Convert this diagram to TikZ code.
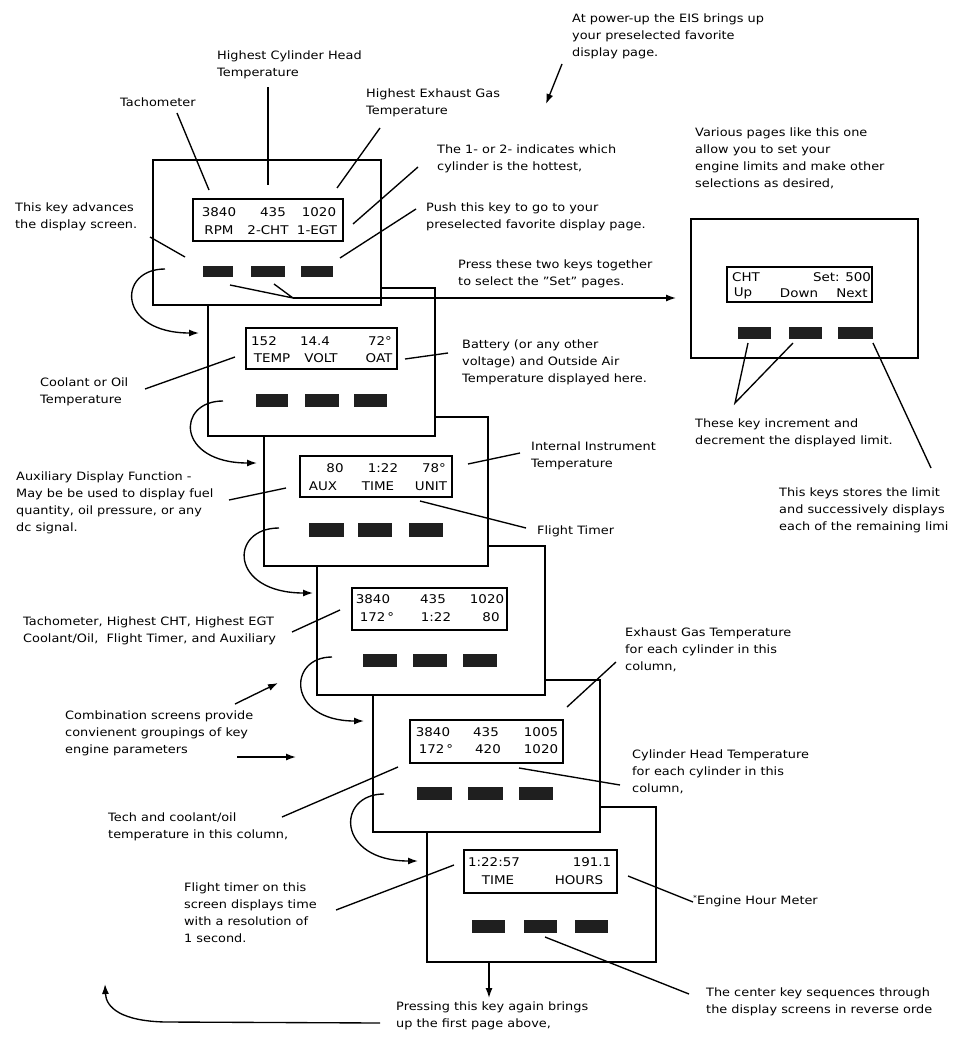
\documentclass[tikz,border=0pt]{standalone}
\usepackage{fontspec}
\setmainfont{DejaVu Sans}[FakeStretch=1.12]
\usetikzlibrary{arrows.meta}
\newcommand\rectnode[6]{\node[#1, minimum width={(#5-#3)*1pt}, minimum height={(#6-#4)*1pt}] (#2) at ({(#3+#5)/2},{(#4+#6)/2}) {};}
\begin{document}
\begin{tikzpicture}[x=1pt,y=-1pt,
  screen/.style={draw, line width=1.6pt, fill=white, inner sep=0pt},
  disp/.style={draw, line width=1.4pt, inner sep=0pt},
  key/.style={fill=black!88, draw=none, inner sep=0pt},
  lbl/.style={font=\fontsize{11.5}{17}\selectfont, align=left, inner sep=0pt, anchor=west},
  dtxt/.style={font=\fontsize{12}{14}\selectfont, inner sep=0pt},
  lead/.style={line width=1.35pt},
  arr/.style={line width=1.35pt, -{Latex[length=10pt,width=7pt]}},
]
\useasboundingbox (0,0) rectangle (956,1057);
\fill[white] (0,0) rectangle (956,1057);

% ---------- screen 6 (back) ----------
\rectnode{screen}{s6}{427}{807}{656}{962}
\rectnode{disp}{d6}{464}{850}{617}{893}
\rectnode{key}{k6a}{472}{920}{505}{933}
\rectnode{key}{k6b}{524}{920}{557}{933}
\rectnode{key}{k6c}{575}{920}{608}{933}
\node[dtxt] (t6a) at (494,862) {1:22:57};
\node[dtxt] (t6b) at (592,862) {191.1};
\node[dtxt] (t6c) at (498,880) {TIME};
\node[dtxt] (t6d) at (579,880) {HOURS};

% ---------- screen 5 ----------
\rectnode{screen}{s5}{373}{680}{600}{832}
\rectnode{disp}{d5}{410}{720}{563}{763}
\rectnode{key}{k5a}{417}{787}{452}{800}
\rectnode{key}{k5b}{468}{787}{503}{800}
\rectnode{key}{k5c}{519}{787}{553}{800}
\node[dtxt] (t5a) at (433,732) {3840};
\node[dtxt] (t5b) at (486,732) {435};
\node[dtxt] (t5c) at (541,732) {1005};
\node[dtxt] (t5d) at (436,749) {172\,°};
\node[dtxt] (t5e) at (488,749) {420};
\node[dtxt] (t5f) at (541,749) {1020};

% ---------- screen 4 ----------
\rectnode{screen}{s4}{317}{546}{545}{695}
\rectnode{disp}{d4}{352}{588}{507}{630}
\rectnode{key}{k4a}{363}{654}{397}{667}
\rectnode{key}{k4b}{413}{654}{447}{667}
\rectnode{key}{k4c}{463}{654}{497}{667}
\node[dtxt] (t4a) at (373,599) {3840};
\node[dtxt] (t4b) at (433,599) {435};
\node[dtxt] (t4c) at (487,599) {1020};
\node[dtxt] (t4d) at (377,617) {172\,°};
\node[dtxt] (t4e) at (436,617) {1:22};
\node[dtxt] (t4f) at (491,617) {80};

% ---------- screen 3 ----------
\rectnode{screen}{s3}{264}{417}{488}{566}
\rectnode{disp}{d3}{300}{456}{452}{497}
\rectnode{key}{k3a}{309}{523}{344}{537}
\rectnode{key}{k3b}{358}{523}{392}{537}
\rectnode{key}{k3c}{409}{523}{443}{537}
\node[dtxt] (t3a) at (335,468) {80};
\node[dtxt] (t3b) at (383,468) {1:22};
\node[dtxt] (t3c) at (434,468) {78°};
\node[dtxt] (t3d) at (323,486) {AUX};
\node[dtxt] (t3e) at (378,486) {TIME};
\node[dtxt] (t3f) at (431,486) {UNIT};

% ---------- screen 2 ----------
\rectnode{screen}{s2}{208}{288}{435}{436}
\rectnode{disp}{d2}{246}{328}{397}{369}
\rectnode{key}{k2a}{256}{394}{288}{407}
\rectnode{key}{k2b}{305}{394}{339}{407}
\rectnode{key}{k2c}{354}{394}{387}{407}
\node[dtxt] (t2a) at (264,341) {152};
\node[dtxt] (t2b) at (315,341) {14.4};
\node[dtxt] (t2c) at (380,341) {72°};
\node[dtxt] (t2d) at (272,358) {TEMP};
\node[dtxt] (t2e) at (321,358) {VOLT};
\node[dtxt] (t2f) at (379,358) {OAT};

% ---------- screen 1 (front) ----------
\rectnode{screen}{s1}{153}{160}{381}{305}
\rectnode{disp}{d1}{193}{199}{343}{241}
\rectnode{key}{k1a}{203}{266}{233}{277}
\rectnode{key}{k1b}{251}{266}{285}{277}
\rectnode{key}{k1c}{301}{266}{333}{277}
\node[dtxt] (t1a) at (219,212) {3840};
\node[dtxt] (t1b) at (273,212) {435};
\node[dtxt] (t1c) at (319,212) {1020};
\node[dtxt] (t1d) at (219,230) {RPM};
\node[dtxt] (t1e) at (268,230) {2-CHT};
\node[dtxt] (t1f) at (317,230) {1-EGT};

% ---------- set screen ----------
\rectnode{screen}{ss}{691}{219}{918}{358}
\rectnode{disp}{ds}{727}{267}{872}{302}
\rectnode{key}{ksa}{738}{327}{771}{339}
\rectnode{key}{ksb}{789}{327}{822}{339}
\rectnode{key}{ksc}{838}{327}{873}{339}
\node[dtxt] (tsa) at (746,277) {CHT};
\node[dtxt] (tsb) at (842,277) {Set: 500};
\node[dtxt] (tsc) at (743,293) {Up};
\node[dtxt] (tsd) at (799,293) {Down};
\node[dtxt] (tse) at (852,293) {Next};

% ---------- labels ----------
\node[lbl] (l1) at (120,102) {Tachometer};
\node[lbl] (l2) at (217,65) {Highest Cylinder Head\\Temperature};
\node[lbl] (l3) at (366,103) {Highest Exhaust Gas\\Temperature};
\node[lbl] (l4) at (572,36) {At power-up the EIS brings up\\your preselected favorite\\display page.};
\node[lbl] (l5) at (437,158.5) {The 1- or 2- indicates which\\cylinder is the hottest,};
\node[lbl] (l6) at (426,216.5) {Push this key to go to your\\preselected favorite display page.};
\node[lbl] (l7) at (15,217) {This key advances\\the display screen.};
\node[lbl] (l8) at (458,273.5) {Press these two keys together\\to select the "Set" pages.};
\node[lbl] (l9) at (695,158.5) {Various pages like this one\\allow you to set your\\engine limits and make other\\selections as desired,};
\node[lbl] (l10) at (40,392) {Coolant or Oil\\Temperature};
\node[lbl] (l11) at (462,362) {Battery (or any other\\voltage) and Outside Air\\Temperature displayed here.};
\node[lbl] (l12) at (695,433) {These key increment and\\decrement the displayed limit.};
\node[lbl] (l13) at (531,456) {Internal Instrument\\Temperature};
\node[lbl] (l14) at (779,510) {This keys stores the limit\\and successively displays\\each of the remaining limi};
\node[lbl] (l15) at (537,531) {Flight Timer};
\node[lbl] (l16) at (16,503) {Auxiliary Display Function -\\May be be used to display fuel\\quantity, oil pressure, or any\\dc signal.};
\node[lbl] (l17) at (23,631) {Tachometer, Highest CHT, Highest EGT\\Coolant/Oil,\ \ Flight Timer, and Auxiliary};
\node[lbl] (l18) at (65,733) {Combination screens provide\\convienent groupings of key\\engine parameters};
\node[lbl] (l19) at (625,650) {Exhaust Gas Temperature\\for each cylinder in this\\column,};
\node[lbl] (l20) at (632,772) {Cylinder Head Temperature\\for each cylinder in this\\column,};
\node[lbl] (l21) at (108,827) {Tech and coolant/oil\\temperature in this column,};
\node[lbl] (l22) at (184,913) {Flight timer on this\\screen displays time\\with a resolution of\\1 second.};
\node[lbl] (l23) at (693,901) {\raisebox{4pt}{\scriptsize *}Engine Hour Meter};
\node[lbl] (l24) at (396,1016) {Pressing this key again brings\\up the first page above,};
\node[lbl] (l25) at (706,1002) {The center key sequences through\\the display screens in reverse orde};

% ---------- leader coordinates ----------
\coordinate (a1) at (177,113);  \coordinate (b1) at (209,190);
\coordinate (a2) at (268,87);   \coordinate (b2) at (268,185);
\coordinate (a3) at (380,128);  \coordinate (b3) at (337,188);
\coordinate (a5) at (418,167);  \coordinate (b5) at (353,224);
\coordinate (a6) at (416,209);  \coordinate (b6) at (340,258);
\coordinate (a7) at (150,237);  \coordinate (b7) at (185,257);
\coordinate (a8) at (230,285);  \coordinate (a8b) at (274,284);
\coordinate (m8) at (293,298);  \coordinate (e8) at (676,298);
\coordinate (a4) at (562,64);   \coordinate (b4) at (546,104);
\coordinate (a10) at (145,389); \coordinate (b10) at (235,357);
\coordinate (a11) at (448,353); \coordinate (b11) at (405,359);
\coordinate (a12a) at (748,343); \coordinate (a12b) at (793,343); \coordinate (m12) at (735,403);
\coordinate (a14) at (873,343); \coordinate (b14) at (931,468);
\coordinate (a16) at (229,500); \coordinate (b16) at (286,488);
\coordinate (a13) at (520,453); \coordinate (b13) at (468,464);
\coordinate (a15) at (526,528); \coordinate (b15) at (420,501);
\coordinate (a17) at (292,632); \coordinate (b17) at (340,610);
\coordinate (a18) at (235,704); \coordinate (b18) at (278,683);
\coordinate (a18b) at (237,757); \coordinate (b18b) at (296,757);
\coordinate (a19) at (616,662); \coordinate (b19) at (567,707);
\coordinate (a20) at (620,785); \coordinate (b20) at (519,768);
\coordinate (a21) at (282,817); \coordinate (b21) at (398,767);
\coordinate (a22) at (336,910); \coordinate (b22) at (454,865);
\coordinate (a23) at (693,902); \coordinate (b23) at (628,876);
\coordinate (a25) at (689,994); \coordinate (b25) at (545,937);
\coordinate (a24) at (489,962); \coordinate (b24) at (489,998);
\coordinate (r1) at (380,1023); \coordinate (r2) at (165,1022); \coordinate (r3) at (105,984);

\draw[lead] (a1) -- (b1);
\draw[lead] (a2) -- (b2);
\draw[lead] (a3) -- (b3);
\draw[lead] (a5) -- (b5);
\draw[lead] (a6) -- (b6);
\draw[lead] (a7) -- (b7);
\draw[lead] (a8) -- (m8) (a8b) -- (m8);
\draw[arr] (m8) -- (e8);
\draw[arr] (a4) -- (b4);
\draw[lead] (a10) -- (b10);
\draw[lead] (a11) -- (b11);
\draw[lead] (a12a) -- (m12) -- (a12b);
\draw[lead] (a14) -- (b14);
\draw[lead] (a16) -- (b16);
\draw[lead] (a13) -- (b13);
\draw[lead] (a15) -- (b15);
\draw[lead] (a17) -- (b17);
\draw[arr] (a18) -- (b18);
\draw[arr] (a18b) -- (b18b);
\draw[lead] (a19) -- (b19);
\draw[lead] (a20) -- (b20);
\draw[lead] (a21) -- (b21);
\draw[lead] (a22) -- (b22);
\draw[lead] (a23) -- (b23);
\draw[lead] (a25) -- (b25);
\draw[arr] (a24) -- (b24);
\draw[arr] (r1) -- (r2) .. controls (122,1021) and (106,1008) .. (r3);

% ---------- page-advance curves ----------
\coordinate (c1s) at (165,269); \coordinate (c1e) at (199,333);
\coordinate (c2s) at (223,401); \coordinate (c2e) at (257,463);
\coordinate (c3s) at (279,528); \coordinate (c3e) at (313,593);
\coordinate (c4s) at (332,657); \coordinate (c4e) at (364,721);
\coordinate (c5s) at (384,794); \coordinate (c5e) at (418,861);
\draw[arr] (c1s) .. controls (117,269) and (117,333) .. (c1e);
\draw[arr] (c2s) .. controls (176,401) and (176,463) .. (c2e);
\draw[arr] (c3s) .. controls (229,528) and (229,593) .. (c3e);
\draw[arr] (c4s) .. controls (287,657) and (287,721) .. (c4e);
\draw[arr] (c5s) .. controls (336,794) and (336,861) .. (c5e);
\end{tikzpicture}
\end{document}
